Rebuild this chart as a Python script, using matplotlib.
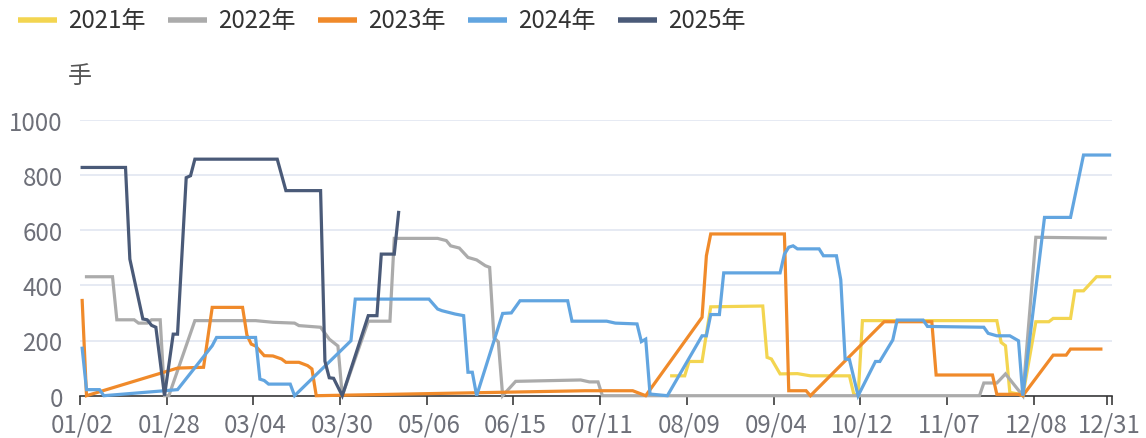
import matplotlib
matplotlib.use("Agg")
import matplotlib.pyplot as plt
from matplotlib.lines import Line2D

plt.rcParams['font.family'] = ['Noto Sans CJK SC', 'DejaVu Sans']

W, H = 1146, 439
PX = 72 / 100  # points per pixel at dpi 100

# x axis: 238 trading-day categories, labels every 20 plus the last one
n_days = 238
tick_pos = [0, 20, 40, 60, 80, 100, 120, 140, 160, 180, 200, 220, 237]
tick_labels = ['01/02', '01/28', '03/04', '03/30', '05/06', '06/15', '07/11',
               '08/09', '09/04', '10/12', '11/07', '12/08', '12/31']

# series vertices (category index, lots)
idx_2021 = [136, 139, 140, 143, 144, 145, 157, 158, 159, 161, 165, 168, 177, 178, 179,
            180, 211, 212, 213, 214, 216, 217, 220, 223, 224, 228, 229, 231, 234, 237]
val_2021 = [72, 72, 124, 124, 224, 322, 325, 139, 133, 79, 80, 72, 72, 6, 0,
            272, 272, 193, 181, 12, 6, 0, 268, 268, 280, 280, 380, 380, 431, 431]

idx_2022 = [1, 7, 8, 12, 13, 15, 16, 18, 19, 20, 26, 40, 44, 49, 50, 55, 57, 59, 60,
            66, 71, 72, 82, 84, 85, 87, 89, 91, 93, 94, 95, 96, 97, 100, 115, 117, 119, 120,
            207, 208, 211, 213, 217, 220, 236]
val_2022 = [431, 431, 275, 275, 263, 263, 275, 275, 0, 0, 272, 272, 266, 263, 254, 248, 205, 180, 0,
            270, 270, 570, 570, 562, 543, 535, 501, 492, 471, 465, 210, 195, 0, 52, 57, 50, 50, 0,
            0, 46, 46, 79, 0, 574, 571]

idx_2023 = [0, 1, 22, 28, 30, 37, 38, 39, 40, 42, 44, 46, 47, 50, 52, 53, 54,
            116, 127, 128, 130, 143, 144, 145, 162, 163, 167, 168, 185, 196, 197,
            210, 211, 216, 217, 224, 227, 228, 235]
val_2023 = [345, 0, 100, 103, 320, 320, 220, 187, 180, 145, 144, 133, 121, 121, 109, 97, 0,
            18, 18, 12, 0, 284, 507, 586, 586, 18, 18, 0, 268, 268, 75,
            75, 5, 5, 0, 147, 147, 169, 169]

idx_2024 = [0, 1, 4, 5, 19, 22, 30, 31, 40, 41, 42, 43, 48, 49, 62, 63, 80, 82, 83, 86, 88, 89,
            90, 91, 97, 99, 101, 112, 113, 121, 123, 128, 129, 130, 131, 135, 143, 144, 145,
            147, 148, 161, 162, 163, 164, 165, 170, 171, 174, 175, 176, 177, 179, 183, 184,
            187, 188, 194, 195, 208, 209, 211, 214, 216, 217, 222, 228, 231, 237]
val_2024 = [172, 22, 22, 0, 18, 22, 181, 211, 211, 60, 55, 42, 42, 0, 199, 350, 350, 314, 308, 296, 290, 85,
            85, 0, 298, 300, 344, 344, 270, 270, 263, 260, 196, 205, 6, 0, 217, 217, 294,
            294, 445, 445, 513, 538, 543, 532, 532, 507, 507, 420, 133, 131, 0, 124, 124,
            202, 274, 274, 251, 248, 226, 217, 217, 199, 0, 646, 646, 872, 872]

idx_2025 = [0, 10, 11, 14, 15, 16, 17, 19, 21, 22, 24, 25, 26, 45, 47, 55, 56, 57, 58, 60,
            66, 68, 69, 72, 73]
val_2025 = [827, 827, 495, 278, 275, 255, 248, 0, 223, 223, 790, 797, 857, 857, 743, 743, 125, 65, 63, 0,
            290, 290, 513, 513, 664]

years = ['2021年', '2022年', '2023年', '2024年', '2025年']
colors = ['#F3D550', '#ABABAB', '#F08A2A', '#62A5E0', '#4A5A78']
series = [(idx_2021, val_2021), (idx_2022, val_2022), (idx_2023, val_2023),
          (idx_2024, val_2024), (idx_2025, val_2025)]

fig = plt.figure(figsize=(W / 100, H / 100), dpi=100)
ax = fig.add_axes([80 / W, (H - 396.7) / H, 1031.7 / W, 276 / H])

for (xs, ys), c in zip(series, colors):
    ax.plot(xs, ys, color=c, lw=3.2 * PX, solid_joinstyle='miter',
            clip_on=False, zorder=3)

ax.set_xlim(-0.5, n_days - 0.5)
ax.set_ylim(0, 1000)
ax.set_yticks(range(0, 1001, 200))
ax.yaxis.grid(True, color='#E0E6F1', lw=1.6 * PX)
ax.set_axisbelow(True)
for s in ['top', 'right', 'left']:
    ax.spines[s].set_visible(False)
ax.spines['bottom'].set_color('#333333')
ax.spines['bottom'].set_linewidth(1.6 * PX)

ax.tick_params(axis='y', length=0, pad=12.5, labelsize=17.3, labelcolor='#6E7079')
ax.set_xticks(tick_pos, tick_labels)
ax.tick_params(axis='x', which='major', length=0, pad=11.5, labelsize=17.3,
               labelcolor='#6E7079')
# tick marks sit on the category boundaries
bounds = [p - 0.5 for p in tick_pos] + [n_days - 0.5]
ax.set_xticks(bounds, minor=True)
ax.tick_params(axis='x', which='minor', length=9 * PX, width=1.6 * PX, color='#333333')

# legend row
for k, (name, c) in enumerate(zip(years, colors)):
    x0 = 18 + 150 * k
    fig.add_artist(Line2D([x0 / W, (x0 + 39) / W], [1 - 20.7 / H] * 2, color=c,
                          lw=5.5 * PX, solid_capstyle='butt'))
    fig.text((x0 + 50) / W, 1 - 21 / H, name, fontsize=17.3, color='#333333',
             ha='left', va='center')

fig.text(80 / W, 1 - 76 / H, '手', fontsize=17.3, color='#555555', ha='center', va='center')

fig.savefig('out.png', dpi=100)
